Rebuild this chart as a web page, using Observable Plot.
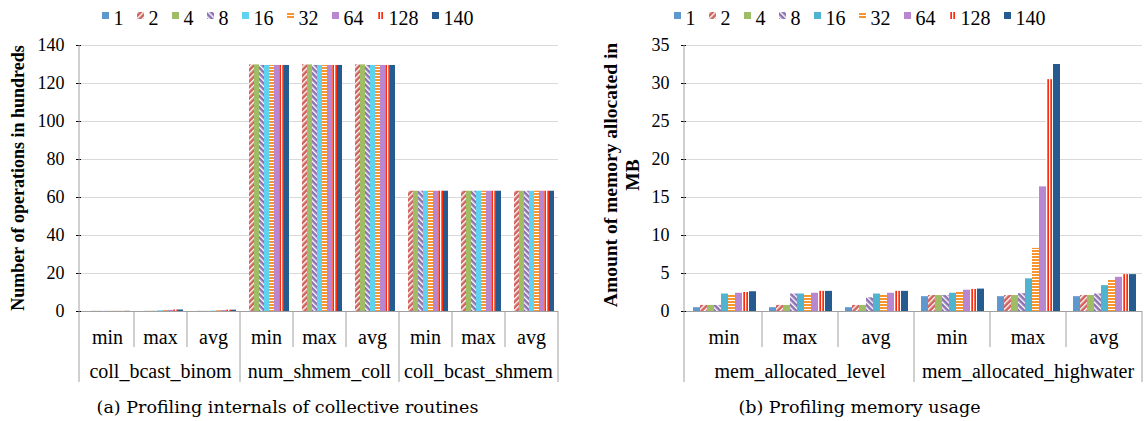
<!DOCTYPE html>
<html><head><meta charset="utf-8">
<script src="https://cdn.jsdelivr.net/npm/d3@7"></script>
<script src="https://cdn.jsdelivr.net/npm/@observablehq/plot@0.6"></script>
<style>
body{margin:0;background:#fff;font-family:"Liberation Serif",serif;color:#000;}
#wrap{position:relative;width:1144px;height:421px;overflow:hidden;}
.panel{position:absolute;top:0;height:421px;}
.legend{position:absolute;top:6px;left:0;right:0;display:flex;justify-content:center;align-items:center;gap:13px;font-size:20px;line-height:24px;white-space:nowrap;font-family:"Liberation Serif",serif !important;}
.legend .item{display:flex;align-items:center;}
.legend span{font-family:"Liberation Serif",serif !important;}
.legend svg{margin-right:5px;position:relative;top:-3px;}
.caption{position:absolute;top:395px;left:0;right:0;text-align:center;font-size:17.5px;line-height:24px;white-space:nowrap;font-family:"DejaVu Serif",serif;}
.chart{position:absolute;top:30px;left:0;}
.chart text{font-family:"Liberation Serif",serif !important;}
#defs{position:absolute;width:0;height:0;}
</style>
</head><body>
<svg id="defs" width="0" height="0">
  <defs>
    <pattern id="p2" patternUnits="userSpaceOnUse" width="4" height="4" patternTransform="rotate(45)">
      <rect width="4" height="4" fill="#cf625d"/><rect width="1.4" height="4" fill="#ffffff"/>
    </pattern>
    <pattern id="p8" patternUnits="userSpaceOnUse" width="4" height="4" patternTransform="rotate(-45)">
      <rect width="4" height="4" fill="#8c72b2"/><rect width="1.4" height="4" fill="#ffffff"/>
    </pattern>
    <pattern id="p32" patternUnits="userSpaceOnUse" width="4" height="3">
      <rect width="4" height="3" fill="#f7952f"/><rect width="4" height="1" fill="#ffffff"/>
    </pattern>
    <pattern id="p128" patternUnits="userSpaceOnUse" width="3" height="4">
      <rect width="3" height="4" fill="#ff2a0a"/><rect width="1.3" height="4" fill="#ffffff"/>
    </pattern>
  </defs>
</svg>
<div id="wrap">
  <div class="panel" id="left" style="left:0;width:575px;"></div>
  <div class="panel" id="right" style="left:575px;width:569px;"></div>
</div>
<script>
// ---------- data ----------
const seriesNames = ["1", "2", "4", "8", "16", "32", "64", "128", "140"];
const statNames = ["min", "max", "avg"];

// (a) collective routines, number of operations in hundreds
const collGroups = ["coll_bcast_binom", "num_shmem_coll", "coll_bcast_shmem"];
const collTicks = [0, 20, 40, 60, 80, 100, 120, 140];
const binomMin = [0, 0.1, 0.1, 0.1, 0.1, 0.1, 0.1, 0.1, 0.1];
const binomMax = [0, 0.1, 0.1, 0.2, 0.4, 0.5, 0.6, 0.8, 0.8];
const binomAvg = [0, 0.1, 0.1, 0.1, 0.2, 0.4, 0.5, 0.7, 0.7];
const shmemCollMin = [0, 129.8, 129.8, 129.5, 129.5, 129.5, 129.5, 129.5, 129.5];
const shmemCollMax = [0, 129.8, 129.8, 129.5, 129.5, 129.5, 129.5, 129.5, 129.5];
const shmemCollAvg = [0, 129.8, 129.8, 129.5, 129.5, 129.5, 129.5, 129.5, 129.5];
const bcastShmemMin = [0, 63.3, 63.3, 63.3, 63.3, 63.3, 63.3, 63.3, 63.3];
const bcastShmemMax = [0, 63.3, 63.3, 63.3, 63.3, 63.3, 63.3, 63.3, 63.3];
const bcastShmemAvg = [0, 63.3, 63.3, 63.3, 63.3, 63.3, 63.3, 63.3, 63.3];

// (b) memory usage in MB
const memGroups = ["mem_allocated_level", "mem_allocated_highwater"];
const memTicks = [0, 5, 10, 15, 20, 25, 30, 35];
const levelMin = [0.5, 0.8, 0.8, 0.8, 2.3, 2.2, 2.4, 2.5, 2.6];
const levelMax = [0.5, 0.8, 0.8, 2.3, 2.3, 2.2, 2.4, 2.65, 2.65];
const levelAvg = [0.5, 0.8, 0.8, 1.8, 2.3, 2.2, 2.4, 2.65, 2.65];
const highMin = [1.95, 2.1, 2.1, 2.1, 2.4, 2.55, 2.8, 2.9, 2.95];
const highMax = [1.95, 2.1, 2.1, 2.35, 4.3, 8.3, 16.4, 30.5, 32.5];
const highAvg = [1.95, 2.1, 2.1, 2.3, 3.4, 4.1, 4.5, 4.85, 4.85];

// ---------- styles ----------
const fillsLeft = ["#5f97cf", "url(#p2)", "#9fbd64", "url(#p8)", "#5fd2ef", "url(#p32)", "#b986d0", "url(#p128)", "#265b8f"];
const fillsRight = ["#5f97cf", "url(#p2)", "#9fbd64", "url(#p8)", "#4fb4cf", "url(#p32)", "#b986d0", "url(#p128)", "#265b8f"];

function buildRows(groups, valueLists, fills) {
  const rows = [];
  groups.forEach((g, gi) => {
    statNames.forEach((s, si) => {
      const vals = valueLists[gi][si];
      vals.forEach((v, i) => rows.push({key: g + "|" + s, group: g, stat: s, series: seriesNames[i], value: v, fill: fills[i]}));
    });
  });
  return rows;
}

function drawPanel(cfg) {
  const host = document.getElementById(cfg.id);
  // legend
  const leg = document.createElement("div");
  leg.className = "legend";
  seriesNames.forEach((s, i) => {
    const it = document.createElement("div");
    it.className = "item";
    it.innerHTML = `<svg width="7" height="7"><rect width="7" height="7" fill="${cfg.fills[i]}"/></svg><span>${s}</span>`;
    leg.appendChild(it);
  });
  host.appendChild(leg);

  const keys = cfg.groups.flatMap(g => statNames.map(s => g + "|" + s));
  const rows = buildRows(cfg.groups, cfg.values, cfg.fills);
  const H = 365, MT = 15, MB = 84;
  const plot = Plot.plot({
    width: cfg.width, height: H,
    marginTop: MT, marginBottom: MB, marginLeft: cfg.marginLeft, marginRight: cfg.marginRight,
    style: {fontFamily: "'Liberation Serif', serif", fontSize: "18px", color: "#000", background: "transparent", overflow: "visible"},
    fx: {domain: keys, padding: 0, axis: null, label: null},
    x: {domain: seriesNames, paddingInner: 0, paddingOuter: 0.7, axis: null, label: null},
    y: {domain: [0, cfg.yMax], ticks: cfg.ticks, tickSize: 5, tickPadding: 12, label: null, tickFormat: d => String(d)},
    color: {type: "identity"},
    marks: [
      Plot.ruleY(cfg.ticks.filter(t => t > 0), {stroke: "#d9d9d9", strokeWidth: 1}),
      Plot.barY(rows, {fx: "key", x: "series", y: "value", fill: "fill"}),
      Plot.ruleY([0], {stroke: "#a0a0a0", strokeWidth: 1})
    ]
  });
  plot.classList.add("chart");
  plot.setAttribute("font-family", "'Liberation Serif', serif");
  host.appendChild(plot);

  const svg = d3.select(plot);
  svg.selectAll('[aria-label="y-axis tick"]').attr("stroke", "#a0a0a0");
  svg.selectAll('[aria-label="y-axis tick label"]').attr("font-family", "'Liberation Serif', serif").attr("font-size", 18);
  const fx = plot.scale("fx");
  const y = plot.scale("y");
  const bw = fx.bandwidth;
  const y0 = y.apply(0), yTop = y.apply(cfg.yMax);
  const g = svg.append("g").attr("font-family", "'Liberation Serif', serif");
  const shortEnd = y0 + 36, longEnd = y0 + 71;
  // vertical axis line
  g.append("line").attr("x1", cfg.marginLeft).attr("x2", cfg.marginLeft)
    .attr("y1", yTop).attr("y2", longEnd).attr("stroke", "#a0a0a0");
  keys.forEach((k, i) => {
    const x0 = fx.apply(k);
    if (i > 0) {
      g.append("line").attr("x1", x0).attr("x2", x0).attr("y1", y0)
        .attr("y2", i % 3 === 0 ? longEnd : shortEnd).attr("stroke", "#a0a0a0");
    }
    g.append("text").attr("x", x0 + bw / 2).attr("y", y0 + 26).attr("dy", "0.35em")
      .attr("text-anchor", "middle").attr("font-size", 20).text(k.split("|")[1]);
  });
  const lastX = fx.apply(keys[keys.length - 1]) + bw;
  g.append("line").attr("x1", lastX).attr("x2", lastX).attr("y1", y0).attr("y2", longEnd).attr("stroke", "#a0a0a0");
  cfg.groups.forEach((grp, gi) => {
    const a = fx.apply(keys[gi * 3]), b = fx.apply(keys[gi * 3 + 2]) + bw;
    g.append("text").attr("x", (a + b) / 2).attr("y", y0 + 60).attr("dy", "0.35em")
      .attr("text-anchor", "middle").attr("font-size", 20).text(grp);
  });
  // y title
  const midY = (y0 + yTop) / 2 + cfg.titleShift;
  cfg.title.forEach((line, li) => {
    g.append("text").attr("transform", `translate(${cfg.titleX[li]},${midY}) rotate(-90)`)
      .attr("text-anchor", "middle").attr("dy", "0.35em").attr("font-weight", "bold").attr("font-size", cfg.titleSize).text(line);
  });

  const cap = document.createElement("div");
  cap.className = "caption";
  cap.textContent = cfg.caption;
  host.appendChild(cap);
}

drawPanel({
  id: "left", width: 575, marginLeft: 79, marginRight: 16,
  groups: collGroups,
  values: [[binomMin, binomMax, binomAvg], [shmemCollMin, shmemCollMax, shmemCollAvg], [bcastShmemMin, bcastShmemMax, bcastShmemAvg]],
  yMax: 140, ticks: collTicks, fills: fillsLeft,
  title: ["Number of operations in hundreds"], titleX: [18], titleSize: 18, titleShift: 0,
  caption: "(a) Profiling internals of collective routines"
});
drawPanel({
  id: "right", width: 569, marginLeft: 109, marginRight: 0,
  groups: memGroups,
  values: [[levelMin, levelMax, levelAvg], [highMin, highMax, highAvg]],
  yMax: 35, ticks: memTicks, fills: fillsRight,
  title: ["Amount of memory allocated in", "MB"], titleX: [35, 57], titleSize: 19.5, titleShift: -3,
  caption: "(b) Profiling memory usage"
});
</script>
</body></html>
